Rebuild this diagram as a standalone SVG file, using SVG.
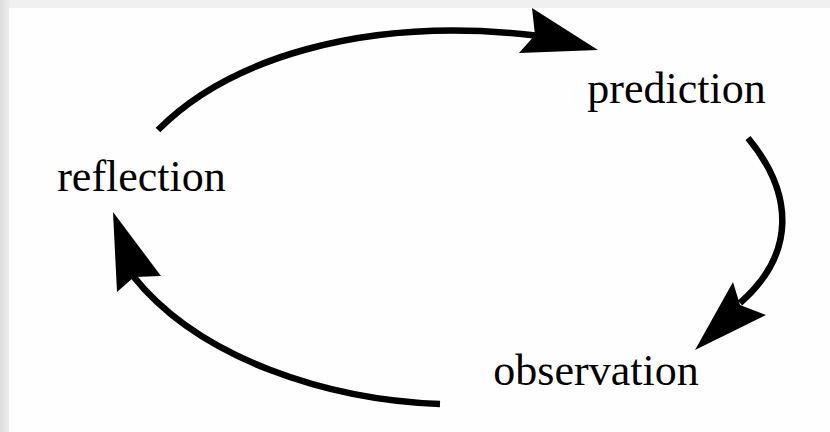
<svg xmlns="http://www.w3.org/2000/svg" width="830" height="432" viewBox="0 0 830 432">
<defs>
<style>
.lbl{font-family:"Liberation Serif","Times New Roman",serif;font-size:44px;fill:#000;text-anchor:middle}
.arc{fill:none;stroke:#000;stroke-width:6.5}
.head{fill:#000;stroke:none}
</style>
<linearGradient id="bg" x1="0" y1="0" x2="1" y2="0">
<stop offset="0" stop-color="#dcdcdc"/>
<stop offset="1" stop-color="#efefef"/>
</linearGradient>
</defs>
<rect x="0" y="0" width="830" height="432" fill="#f0f0f0"/>
<rect x="0" y="0" width="10" height="432" fill="url(#bg)"/>
<rect x="9" y="8" width="821" height="424" fill="#fefefe"/>
<g id="connectors">
<path class="arc" d="M158,130 C225,62 360,14 540,36"/>
<polygon class="head" points="598,50 532,8 535,35 519,53"/>
<path class="arc" d="M748,138 C795,195 795,255 740,303"/>
<polygon class="head" points="695,350 733,282 740,305 766,315"/>
<path class="arc" d="M440,404 C330,400 200,360 133,276"/>
<polygon class="head" points="113,212 161,276 134,277 117,292"/>
</g>
<g id="prediction"><text class="lbl" x="676.5" y="103">prediction</text></g>
<g id="observation"><text class="lbl" x="596" y="385">observation</text></g>
<g id="reflection"><text class="lbl" x="141.5" y="191">reflection</text></g>
</svg>
